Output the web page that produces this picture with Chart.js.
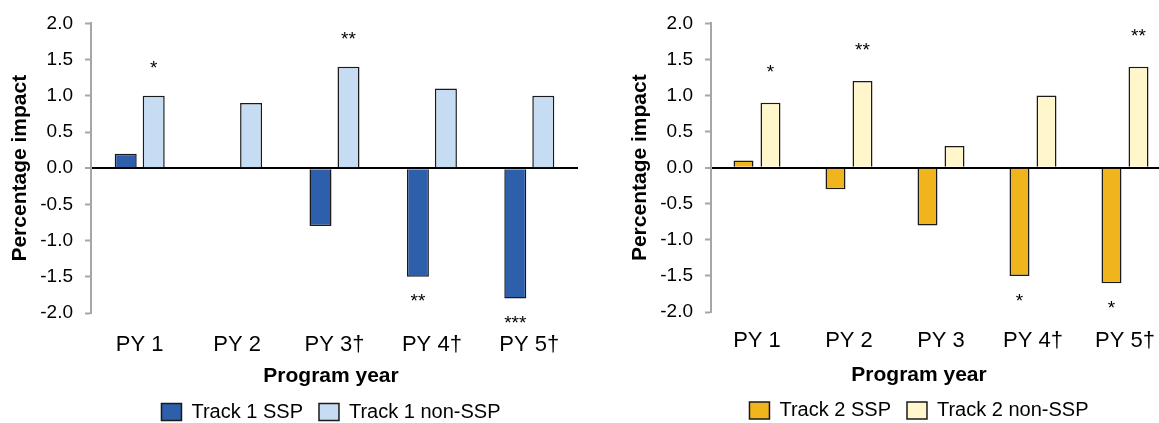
<!DOCTYPE html>
<html>
<head>
<meta charset="utf-8">
<script src="https://cdn.jsdelivr.net/npm/chart.js@4.4.1/dist/chart.umd.min.js"></script>
<style>
  html, body { margin: 0; padding: 0; background: #fff; }
  body { width: 1159px; height: 423px; overflow: hidden; position: relative; }
  canvas { position: absolute; top: 0; }
  #chartOne { left: 0; }
  #chartTwo { left: 620px; }
</style>
</head>
<body>
<canvas id="chartOne" width="662" height="432"></canvas>
<canvas id="chartTwo" width="598" height="432"></canvas>
<script>
var categoriesOne = ['PY 1', 'PY 2', 'PY 3\u2020', 'PY 4\u2020', 'PY 5\u2020'];
var trackOneSsp = [0.2, 0, -0.8, -1.5, -1.8];
var trackOneNonSsp = [1.0, 0.9, 1.4, 1.1, 1.0];
var trackOneSspStars = ['', '', '', '**', '***'];
var trackOneNonSspStars = ['*', '', '**', '', ''];

var categoriesTwo = ['PY 1', 'PY 2', 'PY 3', 'PY 4\u2020', 'PY 5\u2020'];
var trackTwoSsp = [0.1, -0.3, -0.8, -1.5, -1.6];
var trackTwoNonSsp = [0.9, 1.2, 0.3, 1.0, 1.4];
var trackTwoSspStars = ['', '', '', '*', '*'];
var trackTwoNonSspStars = ['*', '**', '', '', '**'];

var yMin = -2.0;
var yMax = 2.0;
var yStep = 0.5;
var xTitle = 'Program year';
var yTitle = 'Percentage impact';

var FONT = "'Liberation Sans', Arial, sans-serif";

// stars above / below the bars
var starPlugin = {
    id: 'stars',
    afterDatasetsDraw: function(chart) {
        var ctx = chart.ctx;
        var off = chart.options.starOffset;
        ctx.save();
        ctx.font = '19px ' + FONT;
        ctx.fillStyle = '#000';
        ctx.textAlign = 'center';
        ctx.textBaseline = 'alphabetic';
        chart.data.datasets.forEach(function(ds, i) {
            var meta = chart.getDatasetMeta(i);
            meta.data.forEach(function(bar, j) {
                var s = ds.stars[j];
                if (!s) return;
                if (ds.data[j] >= 0) {
                    ctx.fillText(s, bar.x, bar.y - off.above);
                } else {
                    ctx.fillText(s, bar.x, bar.y + off.below);
                }
            });
        });
        ctx.restore();
    }
};

// x title centered on the whole canvas, like the legend
var xTitlePlugin = {
    id: 'xTitle',
    afterDraw: function(chart) {
        var ctx = chart.ctx;
        ctx.save();
        ctx.font = 'bold 21px ' + FONT;
        ctx.fillStyle = '#000';
        ctx.textAlign = 'center';
        ctx.textBaseline = 'alphabetic';
        ctx.fillText(xTitle, chart.width / 2, chart.options.titleBaseline);
        ctx.restore();
    }
};

function makeChart(id, labels, sets, cfg) {
    return new Chart(document.getElementById(id).getContext('2d'), {
        type: 'bar',
        data: {
            labels: labels,
            datasets: sets.map(function(s) {
                return {
                    label: s.label,
                    data: s.data,
                    stars: s.stars,
                    backgroundColor: s.color,
                    borderColor: '#1a1a1a',
                    borderWidth: 1.5,
                    categoryPercentage: cfg.catPct,
                    barPercentage: cfg.barPct
                };
            })
        },
        options: {
            responsive: false,
            animation: false,
            titleBaseline: cfg.titleBaseline,
            starOffset: cfg.stars,
            layout: { padding: { top: cfg.top, right: 0, bottom: cfg.bottom, left: 0 } },
            plugins: {
                legend: {
                    position: 'bottom',
                    labels: {
                        color: '#000',
                        font: { family: FONT, size: 20 },
                        boxWidth: 20,
                        boxHeight: 17,
                        padding: 16
                    }
                },
                tooltip: { enabled: false }
            },
            scales: {
                x: {
                    grid: { display: false, drawTicks: false },
                    border: { display: false },
                    ticks: { color: '#000', font: { family: FONT, size: 22 }, padding: cfg.xPad },
                    afterFit: function(scale) { scale.height = cfg.xHeight; }
                },
                y: {
                    min: yMin,
                    max: yMax,
                    ticks: {
                        stepSize: yStep,
                        color: '#000',
                        padding: 12,
                        font: { family: FONT, size: 19 },
                        callback: function(v) { return v.toFixed(1); }
                    },
                    grid: {
                        color: function(c) { return c.tick && c.tick.value === 0 ? '#000' : 'rgba(0,0,0,0)'; },
                        lineWidth: function(c) { return c.tick && c.tick.value === 0 ? 2 : 1; },
                        tickColor: '#a6a6a6',
                        tickWidth: 2,
                        tickLength: 6
                    },
                    border: { color: '#a6a6a6', width: 2 },
                    title: {
                        display: true,
                        text: yTitle,
                        color: '#000',
                        font: { family: FONT, size: 21, weight: 'bold' },
                        padding: { top: 8, bottom: 0 }
                    },
                    afterFit: function(scale) { scale.width = 91; }
                },
                // empty axis on the right, only holds space so the legend stays centred on the canvas
                spacer: {
                    position: 'right',
                    display: true,
                    ticks: { display: false },
                    grid: { display: false, drawTicks: false },
                    border: { display: false },
                    afterFit: function(scale) { scale.width = cfg.right; }
                }
            }
        },
        plugins: [starPlugin, xTitlePlugin]
    });
}

makeChart('chartOne', categoriesOne, [
    { label: 'Track 1 SSP', data: trackOneSsp, stars: trackOneSspStars, color: '#2e5fab' },
    { label: 'Track 1 non-SSP', data: trackOneNonSsp, stars: trackOneNonSspStars, color: '#c5dcf2' }
], { top: 20, right: 84, bottom: 0, xHeight: 73, xPad: 19, titleBaseline: 382,
     catPct: 0.575, barPct: 0.786, stars: { above: 22, below: 30 } });

makeChart('chartTwo', categoriesTwo, [
    { label: 'Track 2 SSP', data: trackTwoSsp, stars: trackTwoSspStars, color: '#f0b41c' },
    { label: 'Track 2 non-SSP', data: trackTwoNonSsp, stars: trackTwoNonSspStars, color: '#fff6cc' }
], { top: 17, right: 47, bottom: 1.5, xHeight: 72.5, xPad: 16, titleBaseline: 381,
     catPct: 0.587, barPct: 0.74, stars: { above: 25, below: 31 } });
</script>
</body>
</html>
